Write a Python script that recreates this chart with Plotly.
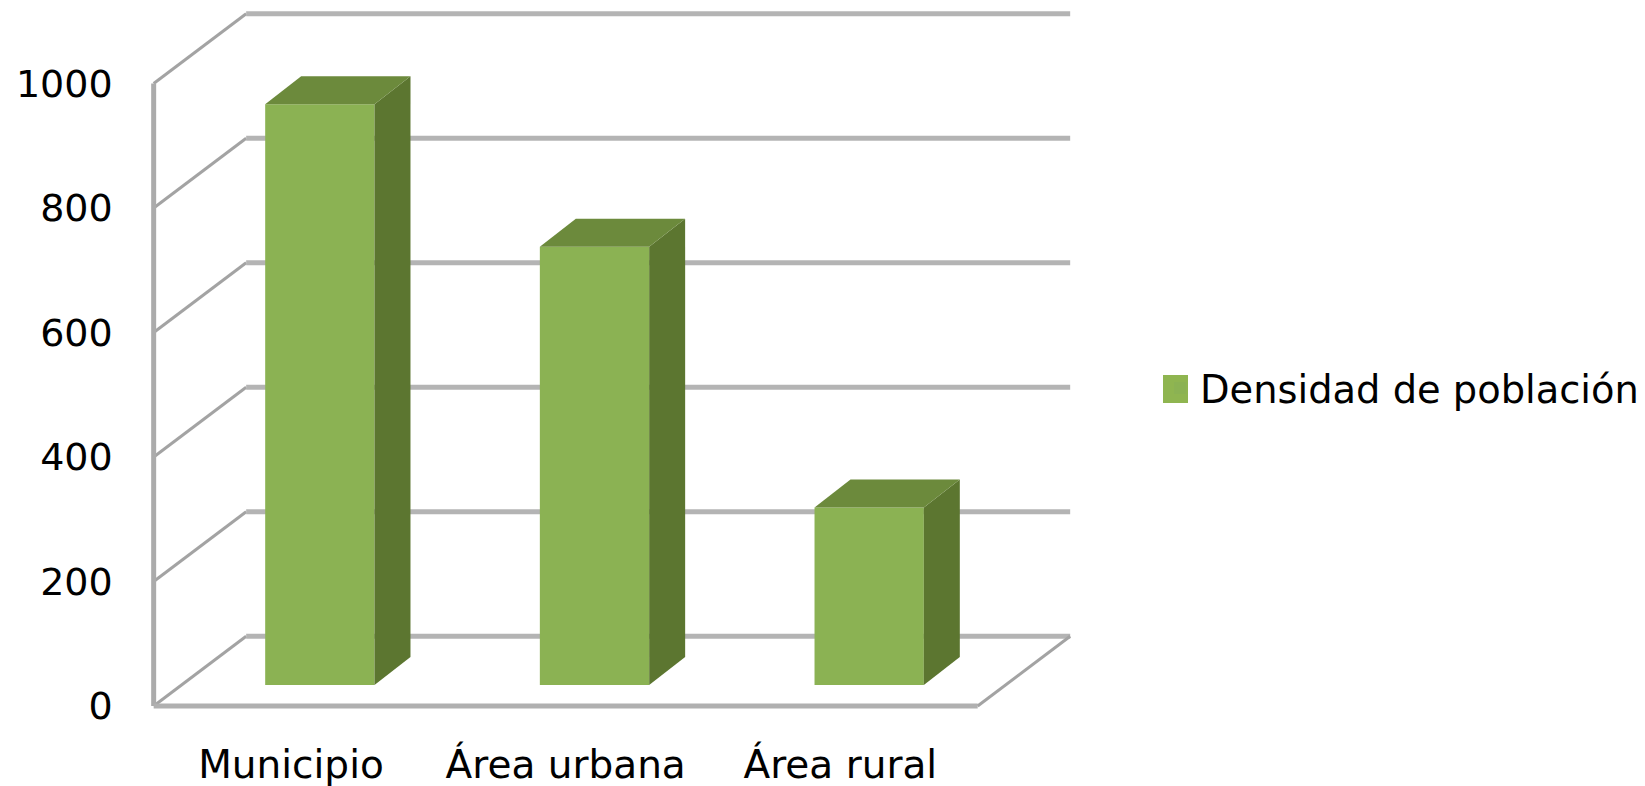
import plotly.graph_objects as go

categories = ["Municipio", "Área urbana", "Área rural"]
values = [933, 704, 285]
y_ticks = [0, 200, 400, 600, 800, 1000]
series_name = "Densidad de población"

W, H = 1645, 786
# pixel calibration of the axes
PX_CAT0, PX_PER_CAT = 291.0, 274.67
PX_ZERO, PX_PER_UNIT = 706.0, 0.6225
WALL_DX, WALL_DY = 0.3368, 112.0      # depth of the chart box, in axis units
BAR_SHIFT, BAR_BASE = 0.105, 33.7     # bar plane inside the box
BAR_W = 0.398
BAR_DX, BAR_DY = 0.131, 45.0          # depth of a bar

FRONT, SIDE, TOP = "#8BB253", "#5C7630", "#6C8A3C"
GRID, DIAG, WALL = "#B4B4B4", "#A3A3A3", "#ABABAB"

x_range = [-PX_CAT0 / PX_PER_CAT, (W - PX_CAT0) / PX_PER_CAT]
y_range = [(PX_ZERO - H) / PX_PER_UNIT, PX_ZERO / PX_PER_UNIT]
left, right = -0.5, len(categories) - 0.5

fig = go.Figure()
centres = [i + BAR_SHIFT for i in range(len(categories))]

fig.add_trace(go.Bar(
    x=centres, y=values, base=[BAR_BASE] * len(values), width=BAR_W,
    marker=dict(color=FRONT, line=dict(width=0)), name=series_name,
    showlegend=True,
))

for c, v in zip(centres, values):
    l, r, t = c - BAR_W / 2, c + BAR_W / 2, BAR_BASE + v
    fig.add_trace(go.Scatter(
        x=[r, r + BAR_DX, r + BAR_DX, r, r],
        y=[BAR_BASE, BAR_BASE + BAR_DY, t + BAR_DY, t, BAR_BASE],
        mode="lines", fill="toself", fillcolor=SIDE, line=dict(width=0),
        showlegend=False, hoverinfo="skip"))
    fig.add_trace(go.Scatter(
        x=[l, r, r + BAR_DX, l + BAR_DX, l],
        y=[t, t, t + BAR_DY, t + BAR_DY, t],
        mode="lines", fill="toself", fillcolor=TOP, line=dict(width=0),
        showlegend=False, hoverinfo="skip"))

shapes = []
def seg(x0, y0, x1, y1, color, width):
    shapes.append(dict(type="line", xref="x", yref="y", x0=x0, y0=y0, x1=x1, y1=y1,
                       layer="below", line=dict(color=color, width=width)))

for t in y_ticks:
    seg(left, t, left + WALL_DX, t + WALL_DY, DIAG, 3)
    seg(left + WALL_DX, t + WALL_DY, right + WALL_DX, t + WALL_DY, GRID, 5)
seg(left, y_ticks[0], left, y_ticks[-1], WALL, 5)
seg(left, 0, right, 0, "#B0B0B0", 5)
seg(right, 0, right + WALL_DX, WALL_DY, DIAG, 3)

# large legend swatch
shapes.append(dict(type="rect", xref="paper", yref="paper",
                   x0=1163 / W, x1=1188 / W, y0=1 - 403 / H, y1=1 - 375 / H,
                   fillcolor="#8FB550", line=dict(width=0), layer="above"))

FONT = "DejaVu Sans"
fig.update_layout(
    width=W, height=H,
    margin=dict(l=0, r=0, t=0, b=0),
    paper_bgcolor="white", plot_bgcolor="white",
    shapes=shapes,
    showlegend=True,
    legend=dict(x=1160 / W, y=1 - 388 / H, xanchor="left", yanchor="middle",
                bgcolor="rgba(0,0,0,0)", font=dict(family=FONT, size=38.4, color="black")),
    xaxis=dict(range=x_range, domain=[0, 1], anchor="free", position=(H - PX_ZERO) / H,
               tickmode="array", tickvals=list(range(len(categories))), ticktext=categories,
               showgrid=False, zeroline=False, showline=False, ticks="",
               ticklabelstandoff=32, tickangle=0,
               tickfont=dict(family=FONT, size=39, color="black")),
    yaxis=dict(range=y_range, domain=[0, 1], anchor="free", position=(-x_range[0] + left) / (x_range[1] - x_range[0]),
               tickmode="array", tickvals=y_ticks, ticktext=[str(t) for t in y_ticks],
               showgrid=False, zeroline=False, showline=False, ticks="",
               ticklabelstandoff=41,
               tickfont=dict(family=FONT, size=38, color="black")),
)

fig.write_html("out.html", config={"displayModeBar": False},
               post_script="document.body.style.margin='0';document.body.style.overflow='hidden';")
